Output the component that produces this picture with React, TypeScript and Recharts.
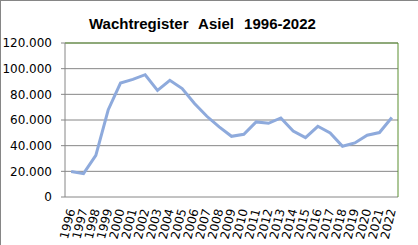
import React from 'react';
import { ComposedChart, Line, XAxis, YAxis, CartesianGrid, ReferenceLine } from 'recharts';

const years = ['1996','1997','1998','1999','2000','2001','2002','2003','2004','2005','2006','2007','2008','2009','2010','2011','2012','2013','2014','2015','2016','2017','2018','2019','2020','2021','2022'];
const wachtregister = [19800,18200,32500,67800,88800,91700,95300,83100,90900,84500,72800,62900,54600,47300,48900,58500,57400,61600,51400,46300,55100,49900,39500,42100,48100,50200,61900];
const yTicks = [0,20000,40000,60000,80000,100000,120000];
const title = 'Wachtregister Asiel 1996-2022';

const data = years.map((y, i) => ({ idx: i, year: y, value: wachtregister[i] }));
const lo = -0.5;
const hi = years.length - 0.5;
const boundaries = [lo].concat(years.map((_, i) => i + 0.5));
const centers = years.map((_, i) => i);

const GRAY = '#868686';
const GREEN = '#5a8f30';
const FONT = 'DejaVu Sans';

const fmt = (v: number) => (v === 0 ? '0' : v.toLocaleString('de-DE'));

const XTick = (props: any) => {
  const { x, y, payload } = props;
  return (
    <g transform={`translate(${x},${y})`}>
      <text transform="rotate(-76)" textAnchor="end" dy="0.35em" fontFamily={FONT} fontSize={12} fill="#000">
        {years[payload.value]}
      </text>
    </g>
  );
};

export default function App() {
  return (
    <div style={{ position: 'absolute', left: 0, top: 0, width: 418, height: 245, background: '#fff' }}>
      <div style={{ position: 'absolute', left: 0, top: 0, width: 418, height: 1, background: GRAY }} />
      <div style={{ position: 'absolute', left: 0, top: 0, width: 1, height: 245, background: GRAY }} />
      <div
        style={{
          position: 'absolute', left: 89, top: 16, lineHeight: '15px', fontSize: 15, fontWeight: 'bold',
          fontFamily: 'Liberation Sans', wordSpacing: 6, color: '#000', whiteSpace: 'nowrap',
        }}
      >
        {title}
      </div>
      <ComposedChart width={418} height={245} data={data} margin={{ top: 43, right: 20, bottom: 0, left: 0 }}>
        <CartesianGrid vertical={false} stroke={GRAY} strokeDasharray="" />
        <XAxis
          xAxisId={0}
          dataKey="idx"
          type="number"
          domain={[lo, hi]}
          ticks={boundaries}
          interval={0}
          allowDataOverflow
          height={0}
          tick={false}
          tickSize={4}
          tickLine={{ stroke: GRAY }}
          axisLine={{ stroke: GRAY }}
        />
        <XAxis
          xAxisId="lab"
          dataKey="idx"
          type="number"
          domain={[lo, hi]}
          ticks={centers}
          interval={0}
          allowDataOverflow
          height={48}
          tickLine={false}
          axisLine={false}
          tickSize={0}
          tickMargin={12}
          tick={<XTick />}
        />
        <YAxis
          width={65}
          domain={[0, 120000]}
          ticks={yTicks}
          interval={0}
          tickFormatter={fmt}
          tickSize={4}
          tickMargin={9}
          tickLine={{ stroke: GRAY }}
          axisLine={{ stroke: GRAY }}
          tick={{ fontFamily: FONT, fontSize: 12, fill: '#000' }}
        />
        <ReferenceLine y={120000} stroke={GREEN} strokeWidth={1} ifOverflow="visible" />
        <ReferenceLine x={hi} xAxisId={0} stroke={GREEN} strokeWidth={1} ifOverflow="visible" />
        <Line
          xAxisId={0}
          dataKey="value"
          type="linear"
          stroke="#8eaadc"
          strokeWidth={3}
          dot={false}
          activeDot={false}
          isAnimationActive={false}
        />
      </ComposedChart>
    </div>
  );
}
